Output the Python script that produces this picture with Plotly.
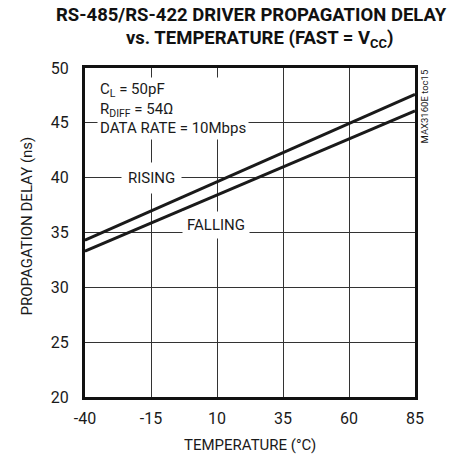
import plotly.graph_objects as go

temperature = [-40, -15, 10, 35, 60, 85]
rising_ns = [34.3, 36.95, 39.65, 42.3, 44.95, 47.6]
falling_ns = [33.3, 35.85, 38.4, 40.95, 43.5, 46.1]

x_ticks = [-40, -15, 10, 35, 60, 85]
x_tick_labels = ["-40", "-15", "10", "35", "60", "85"]
y_ticks = [20, 25, 30, 35, 40, 45, 50]

FONT = "Roboto, Liberation Sans, sans-serif"

fig = go.Figure()
for ys in (rising_ns, falling_ns):
    fig.add_trace(go.Scatter(x=temperature, y=ys, mode="lines",
                             line=dict(color="#1a1a1a", width=3),
                             showlegend=False, hoverinfo="skip"))

fig.update_layout(
    width=454, height=457,
    margin=dict(l=85, r=39, t=68, b=60),
    paper_bgcolor="white", plot_bgcolor="white",
    font=dict(family=FONT, size=16, color="#1a1a1a"),
)
fig.update_xaxes(range=[-40, 85], tickvals=x_ticks, ticktext=x_tick_labels, ticks="",
                 showgrid=True, gridcolor="#333", gridwidth=1, showline=True,
                 linecolor="#111", linewidth=3, mirror=True, zeroline=False,
                 automargin=False, ticklabelstandoff=5, tickfont=dict(size=16))
fig.update_yaxes(range=[20, 50], tickvals=y_ticks, ticks="", showgrid=True,
                 gridcolor="#333", gridwidth=1, showline=True, linecolor="#111",
                 linewidth=3, mirror=True, zeroline=False, automargin=False,
                 ticklabelstandoff=10, tickfont=dict(size=16))

# title (two lines placed separately for tighter line spacing)
fig.add_annotation(x=0.506, y=1, xref="paper", yref="paper", yshift=53,
                   xanchor="center", yanchor="middle", showarrow=False,
                   text="<b>RS-485/RS-422 DRIVER PROPAGATION DELAY</b>",
                   font=dict(size=18.5, color="#111"))
fig.add_annotation(x=0.530, y=1, xref="paper", yref="paper", yshift=29,
                   xanchor="center", yanchor="middle", showarrow=False,
                   text="<b>vs. TEMPERATURE (FAST = V<sub>CC</sub>)</b>",
                   font=dict(size=18.5, color="#111"))
# axis titles
fig.add_annotation(x=0.5, y=0, xref="paper", yref="paper", yshift=-48,
                   xanchor="center", yanchor="middle", showarrow=False,
                   text="TEMPERATURE (°C)", font=dict(size=15))
fig.add_annotation(x=0, y=0.5, xref="paper", yref="paper", xshift=-59, yshift=6,
                   xanchor="center", yanchor="middle", showarrow=False, textangle=-90,
                   text="PROPAGATION DELAY (ns)", font=dict(size=15))

fig.add_annotation(x=-34.5, y=48.6, xref="x", yref="y", xanchor="left", yanchor="top",
                   yshift=6, xshift=-3, align="left", showarrow=False, bgcolor="white",
                   borderpad=2,
                   text="C<sub>L</sub> = 50pF<br>R<sub>DIFF</sub> = 54Ω<br>DATA RATE = 10Mbps",
                   font=dict(size=15))
fig.add_annotation(x=-15, y=40, xref="x", yref="y", showarrow=False, bgcolor="white",
                   borderpad=6, text="RISING", font=dict(size=15))
fig.add_annotation(x=9.5, y=35, xref="x", yref="y", yshift=8, showarrow=False,
                   bgcolor="white", borderpad=4, text="FALLING", font=dict(size=15))
fig.add_annotation(x=1.0, y=1.0, xref="paper", yref="paper", xanchor="left", yanchor="top",
                   xshift=1, yshift=0, textangle=-90, showarrow=False,
                   text="MAX3160E toc15", font=dict(size=9.5))

fig.write_html("out.html", config={"displayModeBar": False},
               post_script="document.body.style.margin='0';")
